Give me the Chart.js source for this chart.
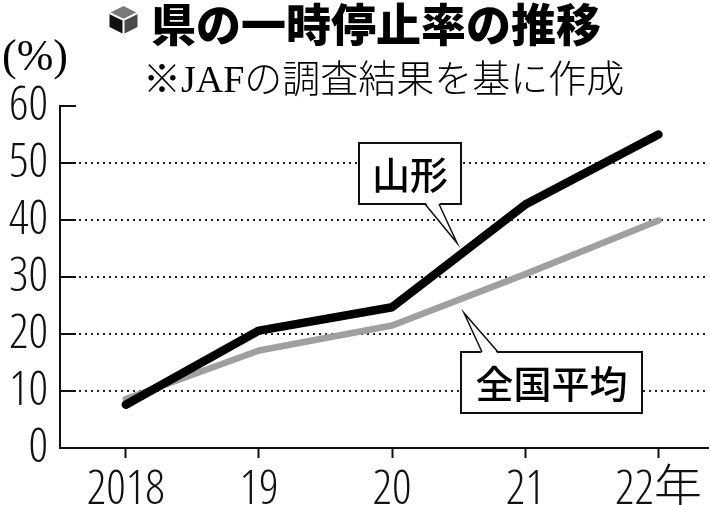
<!DOCTYPE html>
<html>
<head>
<meta charset="utf-8">
<script src="https://cdn.jsdelivr.net/npm/chart.js@4.4.0/dist/chart.umd.min.js"></script>
<style>
  html, body { margin: 0; padding: 0; background: #fff; }
  #wrap { position: relative; width: 710px; height: 505px; }
</style>
</head>
<body>
<div id="wrap"><canvas id="chart"></canvas></div>
<script>
// data
const years = ["2018", "19", "20", "21", "22年"];
const yamagata = [7.6, 20.6, 24.7, 42.7, 55.0];
const national = [8.6, 17.1, 21.5, 30.5, 39.9];
const yTicks = [0, 10, 20, 30, 40, 50, 60];
const seriesNames = ["山形", "全国平均"];
const titleText = "県の一時停止率の推移";
const noteText = "※JAFの調査結果を基に作成";
const unitText = "(%)";

const CJK = '"Noto Sans CJK JP", sans-serif';
const SERIF = '"Liberation Serif", "DejaVu Serif", "Noto Sans CJK JP", serif';
// chart.js drops unknown font styles, so the stretch rides along with the weight
const tickFont = { family: '"Open Sans", "Noto Sans CJK JP", sans-serif', weight: "300 condensed", size: 48, lineHeight: 1 };

// header: icon, title, note, unit
const headerPlugin = {
    id: "header",
    afterDraw(chart) {
        const ctx = chart.ctx;
        ctx.save();
        // little cube icon
        const cx = 123.5, cy = 20, r = 14;
        const h = r * 0.5;
        ctx.fillStyle = "#7a7a7a";
        ctx.beginPath();
        ctx.moveTo(cx, cy - r); ctx.lineTo(cx + r, cy - h); ctx.lineTo(cx, cy); ctx.lineTo(cx - r, cy - h);
        ctx.closePath(); ctx.fill();
        ctx.fillStyle = "#111";
        ctx.beginPath();
        ctx.moveTo(cx - r, cy - h); ctx.lineTo(cx, cy); ctx.lineTo(cx, cy + r); ctx.lineTo(cx - r, cy + h);
        ctx.closePath(); ctx.fill();
        ctx.fillStyle = "#4a4a4a";
        ctx.beginPath();
        ctx.moveTo(cx + r, cy - h); ctx.lineTo(cx, cy); ctx.lineTo(cx, cy + r); ctx.lineTo(cx + r, cy + h);
        ctx.closePath(); ctx.fill();
        ctx.strokeStyle = "#fff";
        ctx.lineWidth = 2;
        ctx.beginPath();
        ctx.moveTo(cx - r, cy - h); ctx.lineTo(cx, cy); ctx.lineTo(cx + r, cy - h);
        ctx.moveTo(cx, cy); ctx.lineTo(cx, cy + r);
        ctx.stroke();

        ctx.fillStyle = "#000";
        ctx.textBaseline = "middle";
        ctx.textAlign = "left";
        ctx.font = "900 45px " + CJK;
        ctx.fillText(titleText, 151, 25);

        ctx.font = "300 38px " + SERIF;
        ctx.fillText(noteText, 143, 82);

        ctx.font = "44px " + SERIF;
        ctx.fillText(unitText, 2, 58);
        ctx.restore();
    }
};

// short solid ticks pointing into the plot, from the y scale
const innerTicksPlugin = {
    id: "innerTicks",
    beforeDatasetsDraw(chart) {
        const ctx = chart.ctx;
        const y = chart.scales.y;
        const left = chart.chartArea.left;
        ctx.save();
        ctx.strokeStyle = "#111";
        ctx.lineWidth = 2;
        yTicks.forEach(v => {
            if (v === 0) return;
            const py = Math.round(y.getPixelForValue(v));
            ctx.beginPath();
            ctx.moveTo(left, py);
            ctx.lineTo(left + 16, py);
            ctx.stroke();
        });
        ctx.restore();
    }
};

// callout boxes with pointers
const callouts = [
    { text: seriesNames[0], box: [359, 143, 102, 61], base: [425, 439], side: "bottom", tip: [457, 243] },
    { text: seriesNames[1], box: [461, 352, 181, 61], base: [482, 498], side: "top", tip: [464, 313] },
];

const calloutPlugin = {
    id: "callouts",
    afterDatasetsDraw(chart) {
        const ctx = chart.ctx;
        ctx.save();
        callouts.forEach(c => {
            const [bx, by, bw, bh] = c.box;
            ctx.fillStyle = "#fff";
            ctx.strokeStyle = "#111";
            ctx.lineWidth = 2;
            ctx.fillRect(bx, by, bw, bh);
            ctx.strokeRect(bx, by, bw, bh);
            const ey = c.side === "bottom" ? by + bh : by;
            const inset = c.side === "bottom" ? -2 : 2;
            ctx.beginPath();
            ctx.moveTo(c.base[0], ey + inset);
            ctx.lineTo(c.tip[0], c.tip[1]);
            ctx.lineTo(c.base[1], ey + inset);
            ctx.closePath();
            ctx.fill();
            ctx.lineWidth = 1.5;
            ctx.beginPath();
            ctx.moveTo(c.base[0], ey);
            ctx.lineTo(c.tip[0], c.tip[1]);
            ctx.lineTo(c.base[1], ey);
            ctx.stroke();
            ctx.fillStyle = "#000";
            ctx.font = "500 38px " + CJK;
            ctx.textAlign = "center";
            ctx.textBaseline = "middle";
            ctx.fillText(c.text, bx + bw / 2, by + bh / 2 + 1);
        });
        ctx.restore();
    }
};

const toPoints = arr => arr.map((v, i) => ({ x: i, y: v }));

const context = document.getElementById("chart").getContext("2d");
const chart = new Chart(context, {
    type: "line",
    data: {
        datasets: [
            {
                label: seriesNames[0],
                data: toPoints(yamagata),
                borderColor: "#000",
                borderWidth: 8.5,
                borderCapStyle: "round",
                borderJoinStyle: "round",
                pointRadius: 0,
                tension: 0,
                clip: false,
            },
            {
                label: seriesNames[1],
                data: toPoints(national),
                borderColor: "#a0a0a0",
                borderWidth: 6.5,
                borderCapStyle: "round",
                borderJoinStyle: "round",
                pointRadius: 0,
                tension: 0,
                clip: false,
            },
        ],
    },
    options: {
        responsive: true,
        maintainAspectRatio: false,
        animation: false,
        layout: { padding: { top: 106, left: 0, right: 0, bottom: 0 } },
        plugins: {
            legend: { display: false },
            tooltip: { enabled: false },
        },
        scales: {
            x: {
                type: "linear",
                min: -0.494,
                max: 4.375,
                afterBuildTicks: s => { s.ticks = years.map((_, i) => ({ value: i })); },
                afterFit: s => { s.height = 57; },
                ticks: {
                    callback: v => years[v],
                    font: tickFont,
                    color: "#111",
                    padding: 8,
                    maxRotation: 0,
                    autoSkip: false,
                },
                grid: {
                    drawOnChartArea: false,
                    drawTicks: true,
                    tickLength: 10,
                    tickColor: "#111",
                    tickWidth: 2,
                },
                border: { color: "#111", width: 2 },
            },
            y: {
                min: 0,
                max: 60,
                afterBuildTicks: s => { s.ticks = yTicks.map(v => ({ value: v })); },
                afterFit: s => { s.width = 60; },
                ticks: {
                    font: tickFont,
                    color: "#111",
                    padding: 12,
                },
                grid: {
                    drawTicks: false,
                    color: c => (c.tick && (c.tick.value === 0 || c.tick.value === 60)) ? "rgba(0,0,0,0)" : "#222",
                    lineWidth: 2,
                },
                border: { color: "#111", width: 2, dash: [2, 4] },
            },
        },
    },
    plugins: [headerPlugin, innerTicksPlugin, calloutPlugin],
});
</script>
</body>
</html>
